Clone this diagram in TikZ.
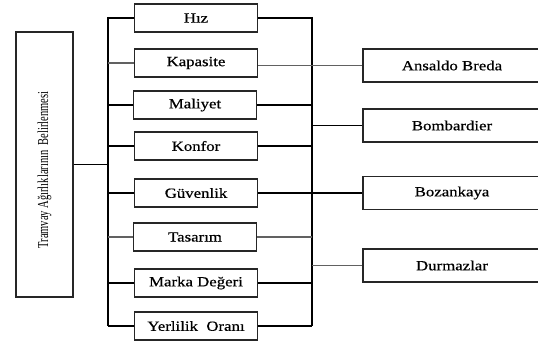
\documentclass[tikz,border=0pt]{standalone}
\usepackage{fontspec}
\setmainfont{Liberation Serif}[FakeBold=0.5]
\newfontfamily\plainserif{Liberation Serif}
\newcommand{\widetxt}[1]{\scalebox{1.2}[1]{#1}}
\begin{document}
\begin{tikzpicture}[x=1pt,y=-1pt,line width=1.1pt,
  midbox/.style={draw=black!85,minimum width=123pt,minimum height=28pt,inner sep=0pt,
    font=\fontsize{14}{16}\selectfont},
  rbox/.style={draw=black!85,minimum width=178pt,minimum height=33pt,inner sep=0pt,
    font=\fontsize{14}{16}\selectfont},
  ln/.style={draw=black},
  gln/.style={draw=black!62}]
\useasboundingbox (0,0) rectangle (538,345);
\clip (0,0) rectangle (538,345);
% left box
\node[draw=black!85,minimum width=57pt,minimum height=265pt,inner sep=0pt] (L) at (44.5,164.5) {};
\node[rotate=90,font=\plainserif\fontsize{10.5}{12}\selectfont] (Lt) at (44.5,170) {\scalebox{1}[1.45]{Tramvay Ağırlıklarının\ \ Belirlenmesi}};
% middle boxes
\node[midbox] (hiz) at (196,18) {\widetxt{Hız}};
\node[midbox] (kap) at (196,63) {\widetxt{Kapasite}};
\node[midbox] (mal) at (195,105) {\widetxt{Maliyet}};
\node[midbox] (kon) at (196,146) {\widetxt{Konfor}};
\node[midbox] (guv) at (196,193) {\widetxt{Güvenlik}};
\node[midbox] (tas) at (195,237) {\widetxt{Tasarım}};
\node[midbox] (mar) at (196,283) {\widetxt{Marka Değeri}};
\node[midbox] (yer) at (196,326) {\widetxt{Yerlilik\ \ Oranı}};
% right boxes
\node[rbox] (ans) at (452,65.5) {\widetxt{Ansaldo Breda}};
\node[rbox] (bom) at (452,125.5) {\widetxt{Bombardier}};
\node[rbox] (boz) at (452,193) {\widetxt{Bozankaya}};
\node[rbox] (dur) at (452,265.5) {\widetxt{Durmazlar}};
% buses
\coordinate (lbT) at (108,17);
\coordinate (lbB) at (108,326);
\coordinate (rbT) at (312,17);
\coordinate (rbB) at (312,326);
\draw[ln] (lbT) -- (lbB);
\draw[ln] (rbT) -- (rbB);
\draw[ln] (L.east) -- (L.east -| lbT);
% left connectors
\draw[ln] (hiz.west) -- (hiz.west -| lbT);
\draw[gln] (kap.west) -- (kap.west -| lbT);
\draw[ln] (mal.west) -- (mal.west -| lbT);
\draw[ln] (kon.west) -- (kon.west -| lbT);
\draw[ln] (guv.west) -- (guv.west -| lbT);
\draw[gln] (tas.west) -- (tas.west -| lbT);
\draw[ln] (mar.west) -- (mar.west -| lbT);
\draw[ln] (yer.west) -- (yer.west -| lbT);
% right connectors
\draw[ln] (hiz.east) -- (hiz.east -| rbT);
\draw[gln] (ans.west) -- (ans.west -| kap.east);
\draw[ln] (mal.east) -- (mal.east -| rbT);
\draw[ln] (kon.east) -- (kon.east -| rbT);
\draw[ln] (boz.west) -- (boz.west -| guv.east);
\draw[gln] (tas.east) -- (tas.east -| rbT);
\draw[ln] (mar.east) -- (mar.east -| rbT);
\draw[ln] (yer.east) -- (yer.east -| rbT);
\draw[ln] (bom.west) -- (bom.west -| rbT);
\draw[gln] (dur.west) -- (dur.west -| rbT);
\end{tikzpicture}
\end{document}
